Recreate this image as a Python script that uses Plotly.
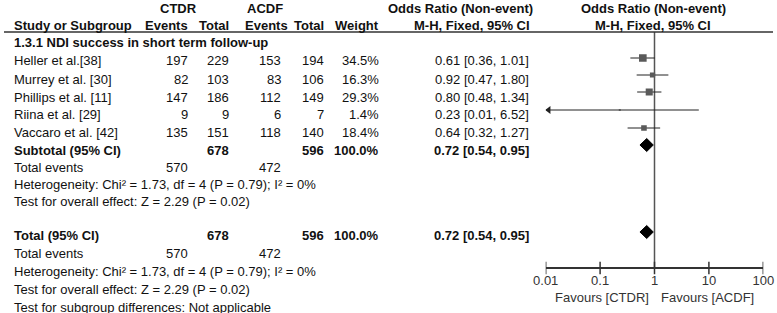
import plotly.graph_objects as go
import math

# ---------------- data ----------------
studies = ["Heller et al.[38]", "Murrey et al. [30]", "Phillips et al. [11]", "Riina et al. [29]", "Vaccaro et al. [42]"]
ctdr_events = [197, 82, 147, 9, 135]
ctdr_total = [229, 103, 186, 9, 151]
acdf_events = [153, 83, 112, 6, 118]
acdf_total = [194, 106, 149, 7, 140]
weights = [34.5, 16.3, 29.3, 1.4, 18.4]
or_est = [0.61, 0.92, 0.80, 0.23, 0.64]
or_lo = [0.36, 0.47, 0.48, 0.01, 0.32]
or_hi = [1.01, 1.80, 1.34, 6.52, 1.27]

sub_ctdr_total = 678
sub_acdf_total = 596
sub_weight = 100.0
sub_or = [0.72, 0.54, 0.95]
sub_ctdr_events = 570
sub_acdf_events = 472
het_text = "Heterogeneity: Chi\u00b2 = 1.73, df = 4 (P = 0.79); I\u00b2 = 0%"
effect_text = "Test for overall effect: Z = 2.29 (P = 0.02)"
subgroup_text = "Test for subgroup differences: Not applicable"
group_title = "1.3.1 NDI success in short term follow-up"

tick_vals = [0.01, 0.1, 1, 10, 100]
tick_text = ["0.01", "0.1", "1", "10", "100"]
favours = ["Favours [CTDR]", "Favours [ACDF]"]
null_value = 1

# ---------------- layout constants (pixels) ----------------
W, H = 777, 313
FONT = "Liberation Sans, Arial, sans-serif"
TXT = "#111111"
FS = 13

x_study = 12
x_ce, x_ct, x_ae, x_at, x_w, x_or = 190, 231, 283, 326, 381, 531
row_h1, row_h2, row_group = 8, 25, 42
row_study = [60, 79, 97, 114, 132]
mk_study = [58, 75, 92, 110, 128]
row_sub, row_te, row_het, row_eff = 150, 167, 184, 201
row_tot, row_te2, row_het2, row_eff2, row_sg = 235, 253, 271, 289, 307
mk_sub, mk_tot = 145, 232
axis_y = 268
plot_left, plot_right = 545.7, 763.3
header_line_y = 32

fig = go.Figure()
ann = []


def t(x, y, s, anchor="left", bold=False, size=FS):
    ann.append(dict(x=x, y=y, xref="x", yref="y", text=("<b>%s</b>" % s) if bold else s,
                    showarrow=False, xanchor=anchor, yanchor="middle",
                    font=dict(family=FONT, size=size, color=TXT)))


def fmt_or(v):
    return "%.2f [%.2f, %.2f]" % (v[0], v[1], v[2])


# headers
t(178, row_h1, "CTDR", "center", True)
t(265, row_h1, "ACDF", "center", True)
t(460, row_h1, "Odds Ratio (Non-event)", "center", True)
t(653, row_h1, "Odds Ratio (Non-event)", "center", True)
t(x_study, row_h2, "Study or Subgroup", "left", True)
t(x_ce, row_h2, "Events", "right", True)
t(x_ct, row_h2, "Total", "right", True)
t(290, row_h2, "Events", "right", True)
t(x_at, row_h2, "Total", "right", True)
t(x_w, row_h2, "Weight", "right", True)
t(x_or + 1, row_h2, "M-H, Fixed, 95% CI", "right", True)
t(653, row_h2, "M-H, Fixed, 95% CI", "center", True)

t(x_study, row_group, group_title, "left", True, 13)

for i, s in enumerate(studies):
    y = row_study[i]
    t(x_study, y, s)
    t(x_ce, y, str(ctdr_events[i]), "right")
    t(x_ct, y, str(ctdr_total[i]), "right")
    t(x_ae, y, str(acdf_events[i]), "right")
    t(x_at, y, str(acdf_total[i]), "right")
    t(x_w, y, "%.1f%%" % weights[i], "right")
    t(x_or, y, fmt_or([or_est[i], or_lo[i], or_hi[i]]), "right")

for (ry, lab) in [(row_sub, "Subtotal (95% CI)"), (row_tot, "Total (95% CI)")]:
    t(x_study, ry, lab, "left", True)
    t(x_ct, ry, str(sub_ctdr_total), "right", True)
    t(x_at, ry, str(sub_acdf_total), "right", True)
    t(x_w, ry, "%.1f%%" % sub_weight, "right", True)
    t(x_or, ry, fmt_or(sub_or), "right", True)

for (r_te, r_het, r_eff) in [(row_te, row_het, row_eff), (row_te2, row_het2, row_eff2)]:
    t(x_study, r_te, "Total events")
    t(x_ce, r_te, str(sub_ctdr_events), "right")
    t(x_ae, r_te, str(sub_acdf_events), "right")
    t(x_study, r_het, het_text)
    t(x_study, r_eff, effect_text)
t(x_study, row_sg, subgroup_text)

# favours labels (annotation x on a log axis is given in log10 units)
ann.append(dict(x=math.log10(null_value), y=297, xref="x2", yref="y", text=favours[0], showarrow=False,
                xanchor="right", yanchor="middle", xshift=-4,
                font=dict(family=FONT, size=FS, color="#333333")))
ann.append(dict(x=math.log10(null_value), y=297, xref="x2", yref="y", text=favours[1], showarrow=False,
                xanchor="left", yanchor="middle", xshift=4,
                font=dict(family=FONT, size=FS, color="#333333")))

LINE = "#222222"
# null line
fig.add_trace(go.Scatter(x=[null_value, null_value], y=[header_line_y, axis_y], xaxis="x2", yaxis="y",
                         mode="lines", line=dict(color="#555555", width=1.5), hoverinfo="skip",
                         showlegend=False))

px_per_decade = (plot_right - plot_left) / 4

# study CIs and squares
for i in range(len(studies)):
    y = mk_study[i]
    fig.add_trace(go.Scatter(x=[or_lo[i], or_hi[i]], y=[y, y], xaxis="x2", yaxis="y", mode="lines",
                             line=dict(color=LINE, width=1), hoverinfo="skip", showlegend=False))
    fig.add_trace(go.Scatter(x=[or_est[i]], y=[y], xaxis="x2", yaxis="y", mode="markers",
                             marker=dict(symbol="square", size=max(1.3 * math.sqrt(weights[i]), 2),
                                         color="#5a5a5a", line=dict(width=0)),
                             hoverinfo="skip", showlegend=False))
    if or_lo[i] <= tick_vals[0]:
        fig.add_trace(go.Scatter(x=[10 ** (math.log10(tick_vals[0]) + 3 / px_per_decade)],
                                 y=[y], xaxis="x2", yaxis="y", mode="markers",
                                 marker=dict(symbol="triangle-left", size=7, color=LINE),
                                 hoverinfo="skip", showlegend=False))

# diamonds
for yc in [mk_sub, mk_tot]:
    fig.add_trace(go.Scatter(x=[sub_or[1], sub_or[0], sub_or[2], sub_or[0], sub_or[1]],
                             y=[yc, yc - 6.5, yc, yc + 6.5, yc], xaxis="x2", yaxis="y", mode="lines",
                             fill="toself", fillcolor="#000000", line=dict(color="#000000", width=1),
                             hoverinfo="skip", showlegend=False))

# crossing tick marks
fig.add_trace(go.Scatter(x=tick_vals, y=[axis_y] * len(tick_vals), xaxis="x2", yaxis="y", mode="markers",
                         marker=dict(symbol="line-ns", size=9, line=dict(color="#333333", width=1.5)),
                         hoverinfo="skip", showlegend=False))

fig.update_layout(
    width=W, height=H, margin=dict(l=0, r=0, t=0, b=0, pad=0, autoexpand=False),
    paper_bgcolor="white", plot_bgcolor="rgba(0,0,0,0)",
    xaxis=dict(range=[0, W], domain=[0, 1], visible=False, fixedrange=True, automargin=False),
    yaxis=dict(range=[H, 0], domain=[0, 1], visible=False, fixedrange=True, automargin=False),
    xaxis2=dict(type="log", range=[-2, 2], domain=[plot_left / W, plot_right / W],
                anchor="free", position=(H - axis_y) / H, automargin=False,
                showline=True, linecolor="#333333", linewidth=1.5, showgrid=False, zeroline=False,
                tickvals=tick_vals, ticktext=tick_text, ticks="outside", ticklen=1, tickcolor="rgba(0,0,0,0)",
                tickfont=dict(family=FONT, size=FS, color="#333333"), fixedrange=True),
    shapes=[dict(type="line", xref="x", yref="y", x0=4, x1=773, y0=header_line_y, y1=header_line_y,
                 line=dict(color="#333333", width=1.5))],
    annotations=ann,
    showlegend=False,
)

fig.write_html("out.html", config={"displayModeBar": False},
               post_script="document.body.style.margin='0px';document.body.style.overflow='hidden';")
